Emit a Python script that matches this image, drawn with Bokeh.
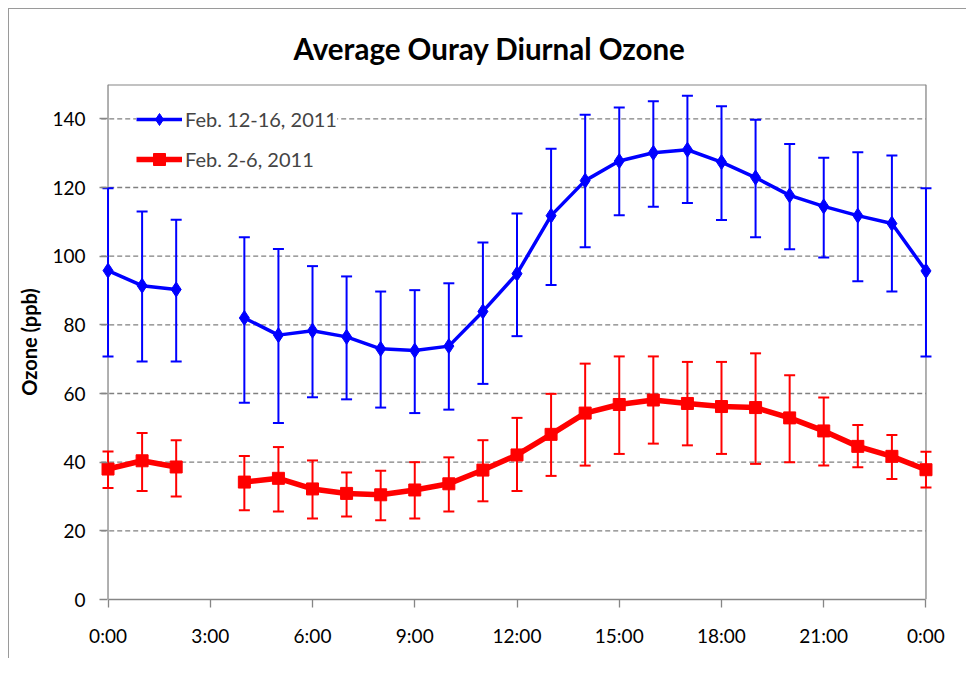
import numpy as np
from bokeh.plotting import figure
from bokeh.models import (ColumnDataSource, Whisker, TeeHead, FixedTicker, Legend, LegendItem,
                          Range1d, Span)
from bokeh.embed import file_html
from bokeh.resources import INLINE

hours = list(range(25))
tick_hours = [0, 3, 6, 9, 12, 15, 18, 21, 24]
tick_labels = ["0:00", "3:00", "6:00", "9:00", "12:00", "15:00", "18:00", "21:00", "0:00"]
y_ticks = [0, 20, 40, 60, 80, 100, 120, 140]
X_MIN, X_MAX, Y_MIN, Y_MAX = 0, 24, 0, 150

blue_name = "Feb. 12-16, 2011"
blue_mean = [95.8, 91.4, 90.3, None, 82.0, 77.0, 78.3, 76.5, 73.0, 72.5, 73.8, 83.9, 94.9,
             111.8, 122.0, 127.7, 130.1, 131.0, 127.4, 122.9, 117.7, 114.5, 111.8, 109.5, 95.7]
blue_upper = [119.8, 113.0, 110.6, None, 105.5, 102.1, 97.1, 94.1, 89.7, 90.1, 92.1, 104.0, 112.4,
              131.3, 141.2, 143.3, 145.1, 146.7, 143.7, 139.7, 132.7, 128.7, 130.3, 129.3, 119.8]
blue_lower = [70.8, 69.3, 69.3, None, 57.3, 51.4, 58.9, 58.3, 55.9, 54.3, 55.3, 62.8, 76.7,
              91.6, 102.6, 111.9, 114.4, 115.5, 110.5, 105.5, 102.0, 99.6, 92.7, 89.7, 70.8]

red_name = "Feb. 2-6, 2011"
red_mean = [38.0, 40.4, 38.6, None, 34.2, 35.3, 32.2, 30.9, 30.5, 31.9, 33.7, 37.7, 42.1,
            48.1, 54.3, 56.8, 58.1, 57.1, 56.2, 55.9, 52.9, 49.1, 44.6, 41.7, 37.8]
red_upper = [43.1, 48.5, 46.4, None, 41.8, 44.4, 40.5, 37.0, 37.5, 40.0, 41.4, 46.4, 52.9,
             59.9, 68.7, 70.8, 70.8, 69.2, 69.2, 71.7, 65.3, 58.8, 50.8, 47.9, 43.0]
red_lower = [32.5, 31.6, 30.0, None, 26.0, 25.6, 23.6, 24.2, 23.1, 23.6, 25.6, 28.6, 31.6,
             36.0, 39.0, 42.4, 45.4, 44.9, 42.4, 39.5, 40.0, 39.0, 38.5, 35.1, 32.6]

FONT = "Lato"
GRAY = "#868686"
GRID = "#808080"
BLUE = "#0000FF"
RED = "#FF0000"
PAD = 0.25  # room so edge markers are not clipped


def nanify(vals):
    return [np.nan if v is None else v for v in vals]


def valid(n, *cols):
    return [i for i in range(n) if all(c[i] is not None for c in cols)]


p = figure(width=958, height=650, output_backend="svg", toolbar_location=None,
           x_range=Range1d(X_MIN - PAD, X_MAX + PAD), y_range=Range1d(Y_MIN, Y_MAX),
           min_border_left=90, min_border_right=33, min_border_top=75, min_border_bottom=60)
p.styles = {"margin-left": "8px", "margin-top": "8px",
            "border-left": "1px solid #9a9a9a", "border-top": "1px solid #9a9a9a"}

p.title.text = "Average Ouray Diurnal Ozone"
p.title.text_font = FONT
p.title.text_font_size = "29.5px"
p.title.text_font_style = "bold"
p.title.text_color = "black"
p.title.align = "left"
p.title.offset = 194
p.title.standoff = 38

p.outline_line_color = None
p.background_fill_color = "white"
p.border_fill_color = "white"

# axes
p.xaxis.ticker = FixedTicker(ticks=tick_hours)
p.xaxis.major_label_overrides = {h: l for h, l in zip(tick_hours, tick_labels)}
p.yaxis.ticker = FixedTicker(ticks=y_ticks)
p.xaxis.bounds = (X_MIN, X_MAX)
for ax in (p.xaxis[0], p.yaxis[0]):
    ax.axis_line_color = GRAY
    ax.axis_line_width = 1.3
    ax.major_tick_line_color = GRAY
    ax.major_tick_line_width = 1.3
    ax.minor_tick_line_color = None
    ax.major_label_text_font = FONT
    ax.major_label_text_font_size = "19px"
    ax.major_label_text_color = "black"
p.xaxis.major_tick_in = 0
p.xaxis.major_tick_out = 8
p.xaxis.major_label_standoff = 16
# y axis sits at the frame edge; its ticks reach in to the x=0 axis line
p.yaxis.axis_line_color = None
p.yaxis.major_tick_in = 8
p.yaxis.major_tick_out = 0
p.yaxis.major_label_standoff = 14
p.yaxis.axis_label = "Ozone (ppb)"
p.yaxis.axis_label_text_font = FONT
p.yaxis.axis_label_text_font_style = "bold"
p.yaxis.axis_label_text_font_size = "20px"
p.yaxis.axis_label_text_color = "black"
p.yaxis.axis_label_standoff = 8

p.xgrid.grid_line_color = None
p.ygrid.grid_line_color = None

# dashed horizontal gridlines spanning the data range only
gy = [t for t in y_ticks if t > Y_MIN]
p.segment(x0=[X_MIN - 0.2] * len(gy), x1=[X_MAX] * len(gy), y0=gy, y1=gy,
          line_color=GRID, line_dash="5 3", line_width=1.3, level="image")
# plot-area border (top and right) and y axis line
p.segment(x0=[X_MIN], x1=[X_MAX], y0=[Y_MAX], y1=[Y_MAX], line_color=GRAY, line_width=2,
          level="image")
p.add_layout(Span(location=X_MAX, dimension="height", line_color=GRAY, line_width=1.3,
                  level="image"))
p.add_layout(Span(location=X_MIN, dimension="height", line_color=GRAY, line_width=1.3,
                  level="image"))

bi = valid(len(hours), blue_mean, blue_upper, blue_lower)
bsrc = ColumnDataSource(dict(x=[hours[i] for i in bi], y=[blue_mean[i] for i in bi],
                             up=[blue_upper[i] for i in bi], lo=[blue_lower[i] for i in bi]))
bline_src = ColumnDataSource(dict(x=hours, y=nanify(blue_mean)))

ri = valid(len(hours), red_mean, red_upper, red_lower)
rsrc = ColumnDataSource(dict(x=[hours[i] for i in ri], y=[red_mean[i] for i in ri],
                             up=[red_upper[i] for i in ri], lo=[red_lower[i] for i in ri]))
rline_src = ColumnDataSource(dict(x=hours, y=nanify(red_mean)))

for src, col in ((bsrc, BLUE), (rsrc, RED)):
    w = Whisker(source=src, base="x", upper="up", lower="lo", line_color=col, line_width=2,
                upper_head=TeeHead(size=11, line_color=col, line_width=2),
                lower_head=TeeHead(size=11, line_color=col, line_width=2))
    p.add_layout(w)

bl = p.line("x", "y", source=bline_src, line_color=BLUE, line_width=3.5)
bm = p.scatter("x", "y", source=bsrc, marker="diamond", size=15, fill_color=BLUE, line_color=BLUE)
rl = p.line("x", "y", source=rline_src, line_color=RED, line_width=5.5)
rm = p.scatter("x", "y", source=rsrc, marker="square", size=12, fill_color=RED, line_color=RED)

legend = Legend(items=[LegendItem(label=blue_name, renderers=[bl, bm]),
                       LegendItem(label=red_name, renderers=[rl, rm])],
                location=(37, 425), orientation="vertical",
                label_text_font=FONT, label_text_font_size="20px",
                glyph_width=46, glyph_height=30, label_height=20, label_standoff=3,
                spacing=10, padding=10, margin=0,
                border_line_color=None, background_fill_color="white", background_fill_alpha=1.0)
p.add_layout(legend)

open("out.html", "w").write(file_html(p, INLINE))
